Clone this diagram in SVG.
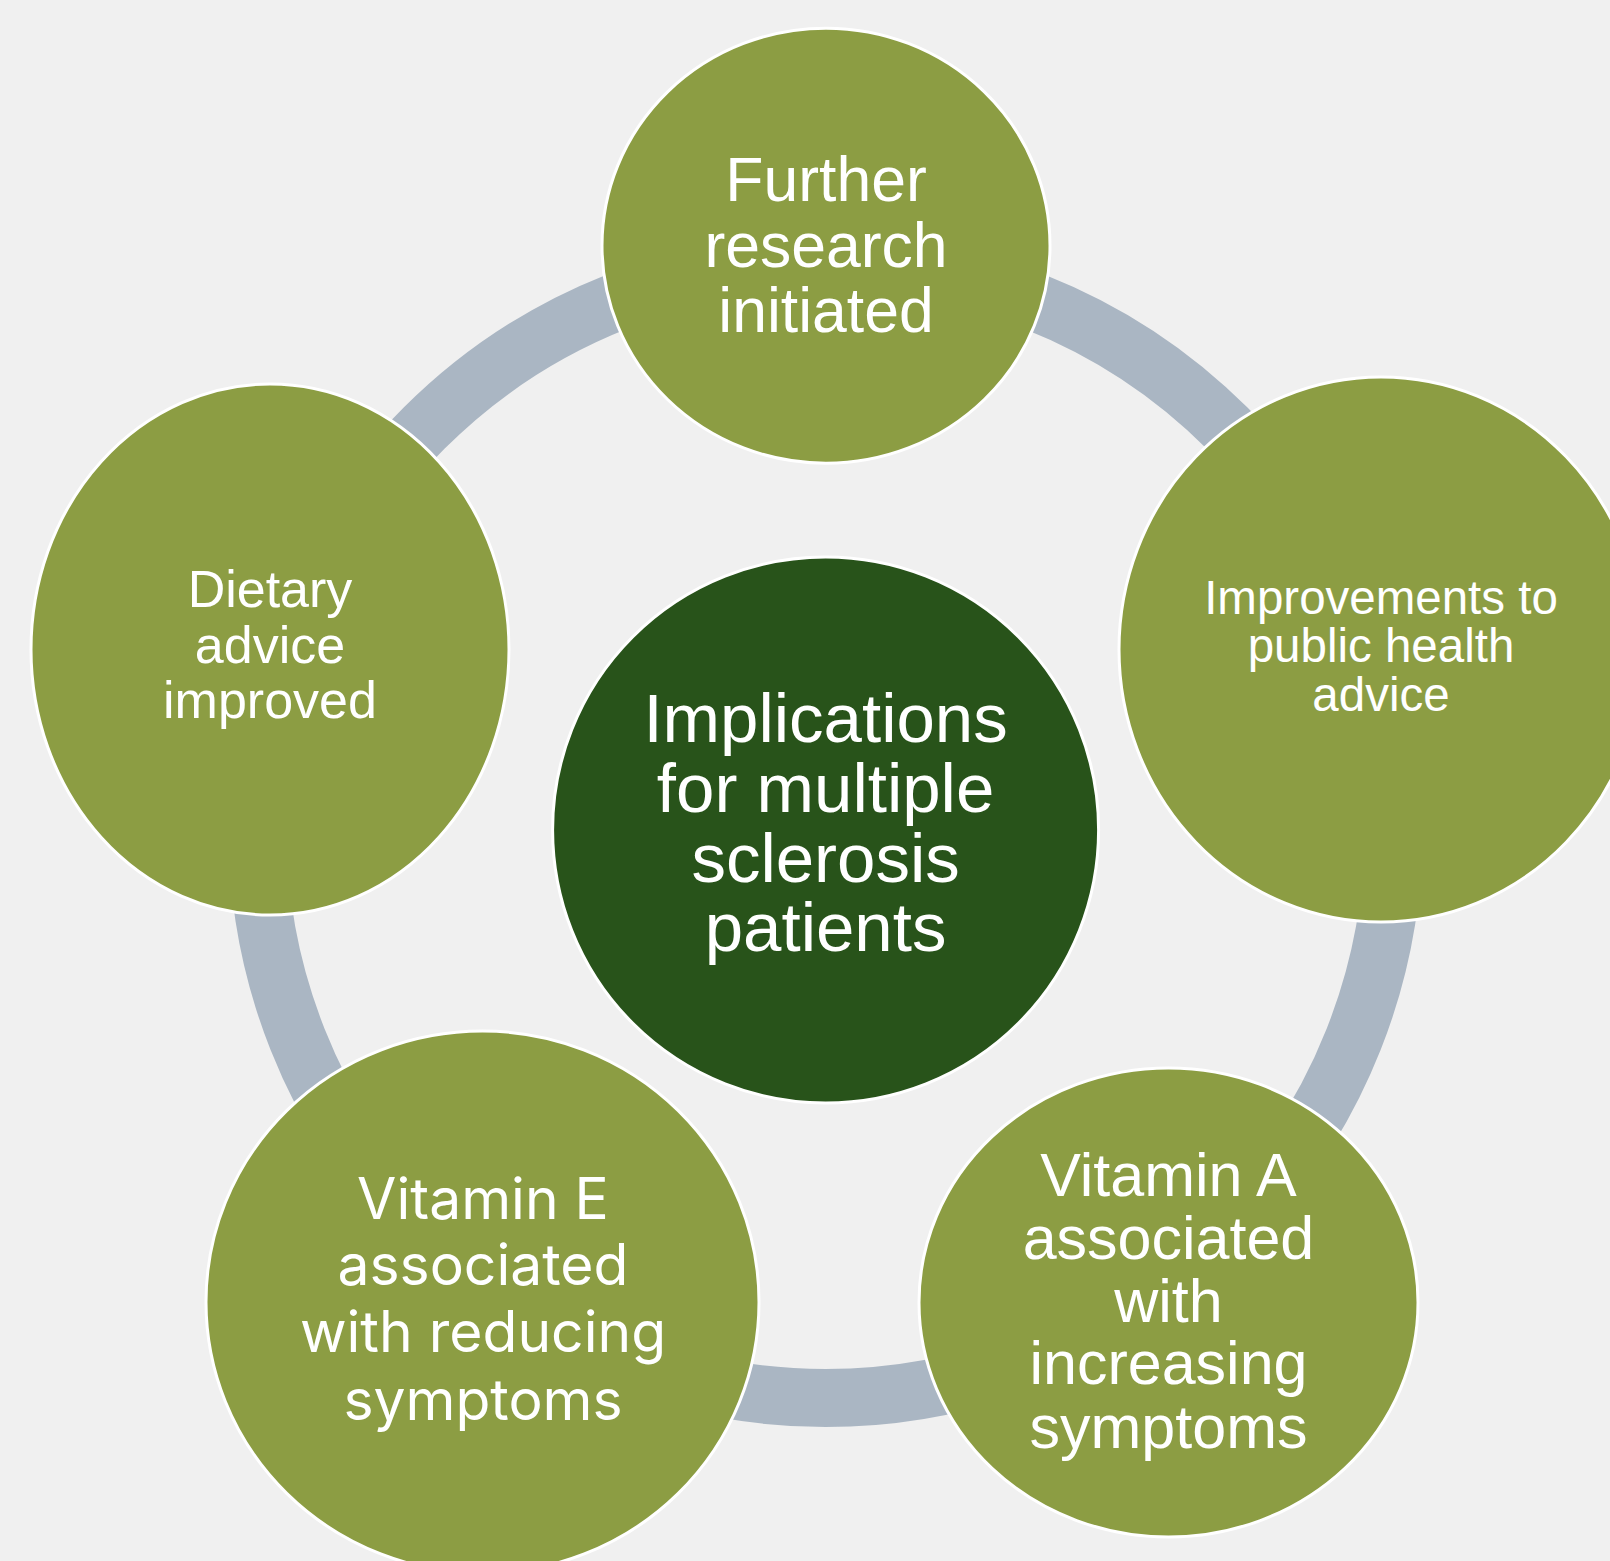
<svg xmlns="http://www.w3.org/2000/svg" width="1610" height="1561" viewBox="0 0 1610 1561">
  <defs>
    <style>
      .bg { fill: #f0f0f0; }
      .ring { fill: none; stroke: #aab6c3; stroke-width: 58; }
      .node { fill: #8c9d43; stroke: #ffffff; stroke-width: 3; }
      .hub { fill: #28531a; stroke: #ffffff; stroke-width: 3; }
      .lbl { fill: #ffffff; font-family: "Liberation Sans", Arial, sans-serif; text-anchor: middle; }
      .lbl-alt { fill: #ffffff; font-family: Inter, "Open Sans", sans-serif; text-anchor: middle; }
    </style>
  </defs>

  <rect class="bg" x="0" y="0" width="1610" height="1561"/>

  <!-- cycle ring behind the nodes -->
  <g id="connectors">
    <circle class="ring" cx="825.6" cy="830" r="568"/>
  </g>

  <!-- central hub -->
  <g id="hub">
    <circle class="hub" cx="825.6" cy="830" r="273"/>
    <g class="lbl" font-size="69">
      <text x="825.6" y="742">Implications</text>
      <text x="825.6" y="812">for multiple</text>
      <text x="825.6" y="882">sclerosis</text>
      <text x="825.6" y="951">patients</text>
    </g>
  </g>

  <g id="node-research">
    <ellipse class="node" cx="826" cy="245.7" rx="224" ry="217.5"/>
    <g class="lbl" font-size="62.5">
      <text x="826" y="201">Further</text>
      <text x="826" y="266.5">research</text>
      <text x="826" y="331.5">initiated</text>
    </g>
  </g>

  <g id="node-public-health">
    <ellipse class="node" cx="1381" cy="649.5" rx="262" ry="272.5"/>
    <g class="lbl" font-size="47.5">
      <text x="1381" y="613.5">Improvements to</text>
      <text x="1381" y="662">public health</text>
      <text x="1381" y="711">advice</text>
    </g>
  </g>

  <g id="node-vitamin-a">
    <ellipse class="node" cx="1168.5" cy="1302.5" rx="249.5" ry="234.5"/>
    <g class="lbl" font-size="61">
      <text x="1168.5" y="1196">Vitamin A</text>
      <text x="1168.5" y="1259">associated</text>
      <text x="1168.5" y="1322">with</text>
      <text x="1168.5" y="1384">increasing</text>
      <text x="1168.5" y="1448">symptoms</text>
    </g>
  </g>

  <g id="node-vitamin-e">
    <ellipse class="node" cx="482.5" cy="1302" rx="276.5" ry="271"/>
    <g class="lbl-alt" font-size="57">
      <text x="483" y="1218.5">Vitamin E</text>
      <text x="483" y="1285">associated</text>
      <text x="483" y="1352">with reducing</text>
      <text x="483" y="1420">symptoms</text>
    </g>
  </g>

  <g id="node-dietary">
    <ellipse class="node" cx="270" cy="649.5" rx="239" ry="265.5"/>
    <g class="lbl" font-size="52">
      <text x="270" y="607">Dietary</text>
      <text x="270" y="663">advice</text>
      <text x="270" y="718">improved</text>
    </g>
  </g>
</svg>
